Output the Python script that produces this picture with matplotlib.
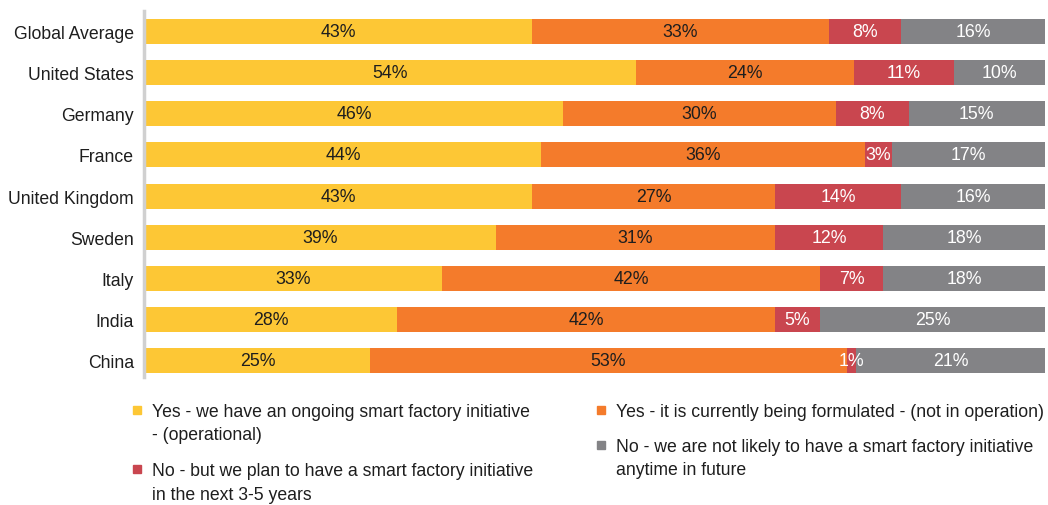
import numpy as np
import matplotlib
matplotlib.use("Agg")
import matplotlib.pyplot as plt
from matplotlib.patches import Rectangle

# data
countries = ["Global Average", "United States", "Germany", "France", "United Kingdom",
             "Sweden", "Italy", "India", "China"]
operational = [43, 54, 46, 44, 43, 39, 33, 28, 25]
formulated = [33, 24, 30, 36, 27, 31, 42, 42, 53]
planned = [8, 11, 8, 3, 14, 12, 7, 5, 1]
not_likely = [16, 10, 15, 17, 16, 18, 18, 25, 21]

series_labels = [
    "Yes - we have an ongoing smart factory initiative\n- (operational)",
    "Yes - it is currently being formulated - (not in operation)",
    "No - but we plan to have a smart factory initiative\nin the next 3-5 years",
    "No - we are not likely to have a smart factory initiative\nanytime in future",
]
colors = ["#FDC735", "#F47B2B", "#C9464F", "#838386"]
text_colors = ["#1e1e1e", "#1e1e1e", "white", "white"]

plt.rcParams["font.family"] = ["Liberation Sans", "DejaVu Sans"]

W, H = 1048, 506
fig = plt.figure(figsize=(W / 100, H / 100), dpi=100)
ax = fig.add_axes([145 / W, 1 - 378 / H, 900 / W, 366 / H])

data = np.array([operational, formulated, planned, not_likely], dtype=float)
totals = data.sum(axis=0)
y = np.arange(len(countries))
left = np.zeros(len(countries))
for vals, c, tc in zip(data, colors, text_colors):
    widths = vals / totals * 100
    ax.barh(y, widths, left=left, height=0.61, color=c, edgecolor="none")
    for yi, (l, w, v) in enumerate(zip(left, widths, vals)):
        ax.text(l + w / 2, yi, f"{int(v)}%", ha="center", va="center",
                fontsize=12.8, color=tc)
    left += widths

ax.set_xlim(0, 100)
ax.set_ylim(len(countries) - 0.6, -0.5)
ax.set_yticks(y)
ax.set_yticklabels(countries)
ax.tick_params(axis="y", length=0, pad=7, labelsize=12.7, labelcolor="#1e1e1e")
ax.set_xticks([])
for s in ["top", "right", "bottom"]:
    ax.spines[s].set_visible(False)
ax.spines["left"].set_color("#D0D0D0")
ax.spines["left"].set_linewidth(2.5)
ax.spines["left"].set_position(("outward", 1))

# legend drawn by hand in two columns
legend_pos = [(137, 411), (601, 411), (137, 470), (601, 446)]
for (px, py), c, lab in zip(legend_pos, colors, series_labels):
    fig.patches.append(Rectangle(((px - 4) / W, 1 - (py + 4) / H), 8 / W, 8 / H,
                                 transform=fig.transFigure, color=c))
    fig.text((px + 15) / W, 1 - (py - 7) / H, lab, fontsize=12.7, color="#1e1e1e",
             va="top", ha="left", linespacing=1.5)

fig.savefig("out.png", dpi=100)
